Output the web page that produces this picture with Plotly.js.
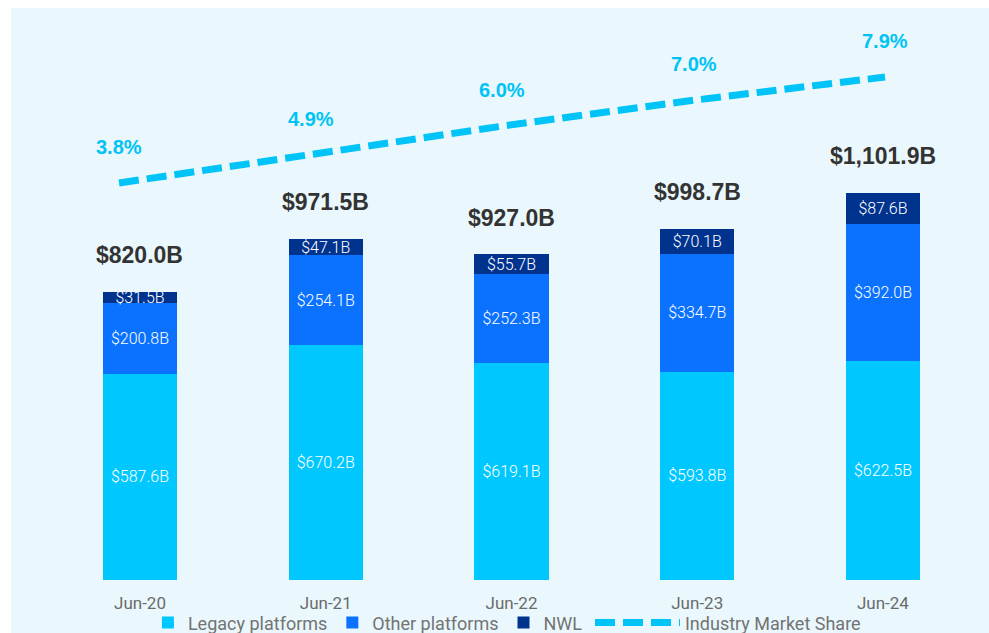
<!DOCTYPE html>
<html lang="en">
<head>
    <meta charset="UTF-8">
    <title>Platform Assets</title>
    <script src="https://cdn.plot.ly/plotly-3.0.1.min.js"></script>
    <style>
        body, html {
            margin: 0;
            padding: 0;
            background: white;
        }
        #chart {
            width: 989px;
            height: 633px;
        }
    </style>
</head>
<body>
    <div id="chart"></div>
    <script>
        // Values
        const periods = ['Jun-20', 'Jun-21', 'Jun-22', 'Jun-23', 'Jun-24'];
        const legacy = [587.6, 670.2, 619.1, 593.8, 622.5];
        const other = [200.8, 254.1, 252.3, 334.7, 392.0];
        const nwl = [31.5, 47.1, 55.7, 70.1, 87.6];
        const totals = [820.0, 971.5, 927.0, 998.7, 1101.9];
        const share = [3.8, 4.9, 6.0, 7.0, 7.9];

        const idx = periods.map((_, i) => i);
        const segFont = {family: 'Roboto, sans-serif', size: 16, color: 'white', weight: 300};
        const legendFont = {family: 'Roboto, sans-serif', size: 18, color: '#737373'};

        function barTrace(name, values, color) {
            return {
                type: 'bar',
                name: name,
                x: idx,
                y: values,
                marker: {color: color},
                texttemplate: '$%{y:.1f}B',
                textposition: 'inside',
                insidetextanchor: 'middle',
                constraintext: 'none',
                textfont: segFont,
                hoverinfo: 'skip'
            };
        }

        const data = [
            barTrace('Legacy platforms', legacy, '#00c8ff'),
            barTrace('Other platforms', other, '#0a72ff'),
            barTrace('NWL', nwl, '#00338e'),
            {
                type: 'scatter',
                mode: 'lines',
                name: 'Industry Market Share',
                legend: 'legend2',
                x: idx,
                y: share,
                xaxis: 'x2',
                yaxis: 'y2',
                line: {color: '#00c3f7', width: 7, dash: '20px,8px'},
                hoverinfo: 'skip'
            }
        ];

        const fmtTotal = v => '$' + v.toLocaleString('en-US', {minimumFractionDigits: 1, maximumFractionDigits: 1}) + 'B';

        const annotations = [];
        totals.forEach((v, i) => {
            annotations.push({
                x: i, y: v, xref: 'x', yref: 'y',
                text: fmtTotal(v),
                showarrow: false,
                yanchor: 'middle',
                yshift: 37,
                font: {family: 'Arial, sans-serif', size: 23, color: '#333333', weight: 'bold'}
            });
        });
        share.forEach((v, i) => {
            annotations.push({
                x: i, y: v, xref: 'x2', yref: 'y2',
                text: v.toFixed(1) + '%',
                showarrow: false,
                yanchor: 'middle',
                yshift: 36,
                font: {family: 'Arial, sans-serif', size: 20, color: '#00c3f5', weight: 'bold'}
            });
        });

        const layout = {
            width: 989,
            height: 633,
            margin: {l: 11, r: 0, t: 8, b: 53, autoexpand: false},
            paper_bgcolor: 'white',
            plot_bgcolor: 'rgba(0,0,0,0)',
            barmode: 'stack',
            bargap: 0.6,
            showlegend: true,
            legend: {
                orientation: 'h',
                traceorder: 'normal',
                x: 0.140,
                xanchor: 'left',
                y: -0.075,
                yanchor: 'middle',
                itemwidth: 30,
                font: legendFont,
                bgcolor: 'rgba(0,0,0,0)'
            },
            legend2: {
                orientation: 'h',
                x: 0.592,
                xanchor: 'left',
                y: -0.075,
                yanchor: 'middle',
                itemwidth: 85,
                font: legendFont,
                bgcolor: 'rgba(0,0,0,0)'
            },
            xaxis: {
                range: [-0.6945, 4.571],
                tickvals: idx,
                ticktext: periods,
                ticks: 'outside',
                ticklen: 8,
                tickcolor: 'rgba(0,0,0,0)',
                showgrid: false,
                zeroline: false,
                showline: false,
                tickfont: {family: 'Roboto, sans-serif', size: 17, color: '#6b6b6b'},
                fixedrange: true
            },
            yaxis: {
                range: [0, 1629],
                visible: false,
                fixedrange: true
            },
            xaxis2: {
                overlaying: 'x',
                range: [-0.564, 4.543],
                visible: false
            },
            yaxis2: {
                overlaying: 'y',
                range: [-11.56, 10.57],
                visible: false
            },
            shapes: [{
                type: 'rect',
                xref: 'paper', yref: 'paper',
                x0: 0, x1: 1, y0: -0.1, y1: 1,
                fillcolor: '#eaf8fd',
                line: {width: 0},
                layer: 'below'
            }],
            annotations: annotations
        };

        Plotly.newPlot('chart', data, layout, {displayModeBar: false, staticPlot: true});
    </script>
</body>
</html>
